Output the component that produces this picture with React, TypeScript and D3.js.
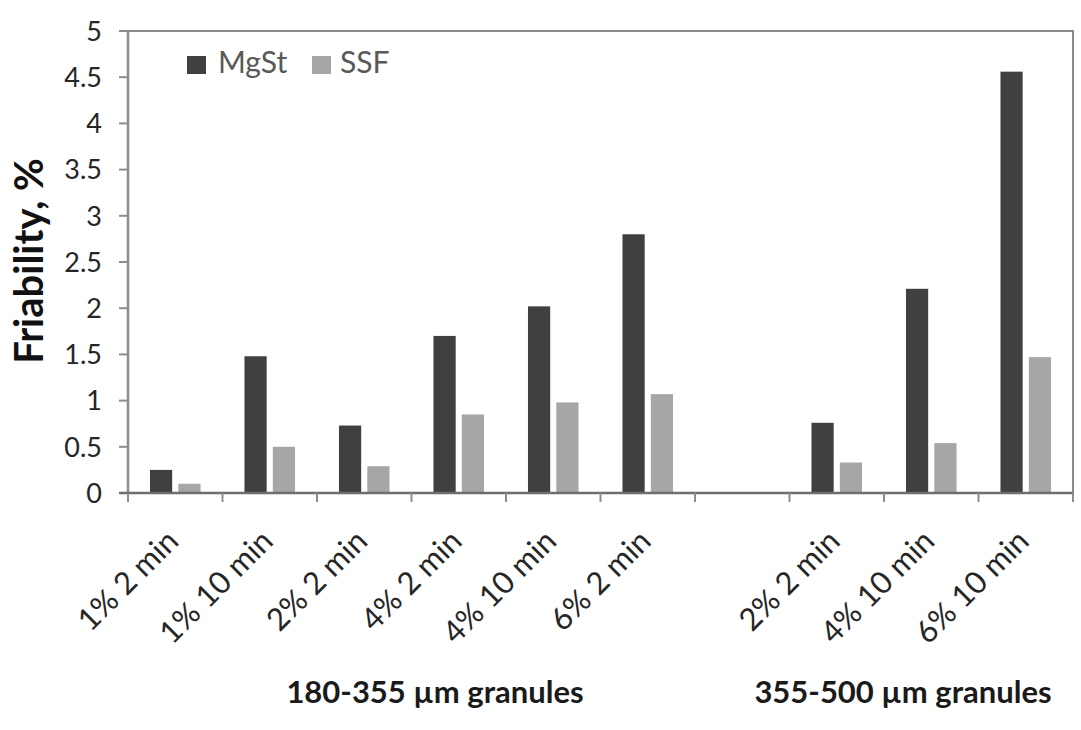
import React from "react";
import * as d3 from "d3";

const categories = ["1% 2 min", "1% 10 min", "2% 2 min", "4% 2 min", "4% 10 min", "6% 2 min", "", "2% 2 min", "4% 10 min", "6% 10 min"];
const mgst = [0.25, 1.48, 0.73, 1.70, 2.02, 2.80, null, 0.76, 2.21, 4.56];
const ssf = [0.10, 0.50, 0.29, 0.85, 0.98, 1.07, null, 0.33, 0.54, 1.47];
const yTicks = [0, 0.5, 1, 1.5, 2, 2.5, 3, 3.5, 4, 4.5, 5];
const groupLabels = ["180-355 µm granules", "355-500 µm granules"];
const seriesNames = ["MgSt", "SSF"];
const colors = ["#404040", "#a6a6a6"];

export default function App() {
  const W = 1081, H = 730;
  const left = 128, right = 1073, top = 31, bottom = 493;
  const x = d3.scaleBand<number>().domain(d3.range(categories.length)).range([left, right]).padding(0);
  const y = d3.scaleLinear().domain([0, 5]).range([bottom, top]);
  const bw = x.bandwidth();
  const barW = bw * 0.235;
  const gap = bw * 0.065;
  const font = "Lato, 'Open Sans', sans-serif";
  const textColor = "#262626";
  const groupX = [435, 903];
  const legendX = [187, 312];
  const legendTextX = [218, 340];

  return (
    <svg width={W} height={H} style={{ position: "absolute", left: 0, top: 0 }} fontFamily={font}>
      <rect x={0} y={0} width={W} height={H} fill="#fff" />
      <rect x={left} y={top} width={right - left} height={bottom - top} fill="none" stroke="#8c8c8c" strokeWidth={2} />
      {categories.map((c, i) => {
        const cx = x(i)! + bw / 2;
        return (
          <g key={i}>
            {mgst[i] != null && (
              <rect x={cx - gap / 2 - barW} y={y(mgst[i] as number)} width={barW} height={bottom - y(mgst[i] as number)} fill={colors[0]} />
            )}
            {ssf[i] != null && (
              <rect x={cx + gap / 2} y={y(ssf[i] as number)} width={barW} height={bottom - y(ssf[i] as number)} fill={colors[1]} />
            )}
          </g>
        );
      })}
      <line x1={left} x2={left} y1={top} y2={bottom} stroke="#8c8c8c" strokeWidth={2.5} />
      {yTicks.map((t) => (
        <g key={t}>
          <line x1={left - 9} x2={left} y1={y(t)} y2={y(t)} stroke="#8c8c8c" strokeWidth={2} />
          <text x={102} y={y(t)} dy="0.36em" textAnchor="end" fontSize={27} fill={textColor}>{t}</text>
        </g>
      ))}
      <line x1={left - 9} x2={right} y1={bottom} y2={bottom} stroke="#6e6e6e" strokeWidth={2.5} />
      {d3.range(categories.length + 1).map((i) => {
        const tx = left + i * bw;
        return <line key={i} x1={tx} x2={tx} y1={bottom} y2={bottom + 9} stroke="#8c8c8c" strokeWidth={2} />;
      })}
      {categories.map((c, i) => {
        if (!c) return null;
        const cx = x(i)! + bw / 2;
        return (
          <text key={i} transform={`translate(${cx + 5},${bottom + 50}) rotate(-45)`} textAnchor="end" fontSize={31} fill={textColor}>
            {c}
          </text>
        );
      })}
      {groupLabels.map((g, i) => (
        <text key={g} x={groupX[i]} y={703} textAnchor="middle" fontSize={31} fontWeight="bold" fill="#1a1a1a">
          {g}
        </text>
      ))}
      <text transform={`translate(43,261) rotate(-90)`} textAnchor="middle" fontSize={40} fontWeight="bold" fill="#111">Friability, %</text>
      {seriesNames.map((s, i) => (
        <g key={s}>
          <rect x={legendX[i]} y={56} width={19} height={18} fill={colors[i]} />
          <text x={legendTextX[i]} y={73} fontSize={30} fill="#595959">{s}</text>
        </g>
      ))}
    </svg>
  );
}
